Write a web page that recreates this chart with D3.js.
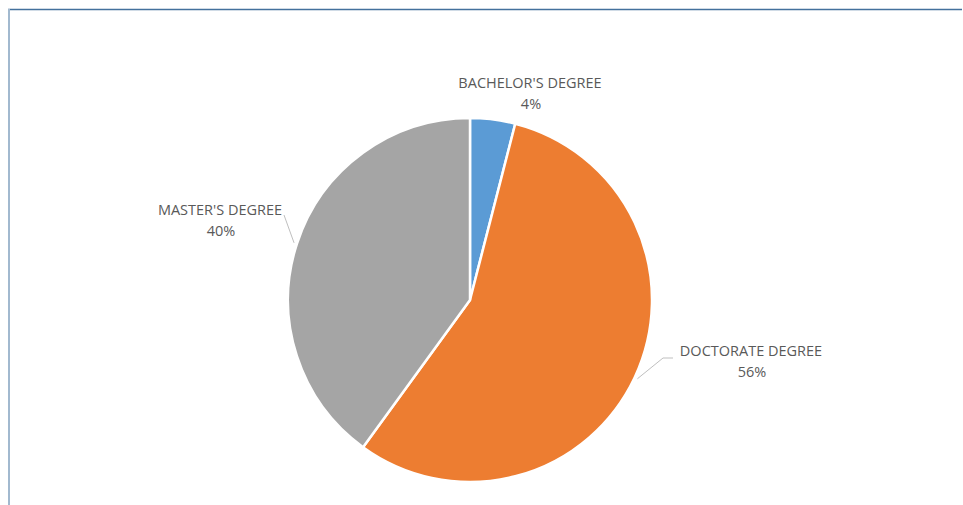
<!DOCTYPE html>
<html>
<head>
<meta charset="utf-8">
<script src="https://cdn.jsdelivr.net/npm/d3@7"></script>
<style>
  html, body { margin: 0; padding: 0; background: #fff; }
  svg { display: block; }
  text { font-family: "Open Sans", "Liberation Sans", sans-serif; }
</style>
</head>
<body>
<div id="chart"></div>
<script>
// Share of staff by highest degree held
const categories = ["BACHELOR'S DEGREE", "DOCTORATE DEGREE", "MASTER'S DEGREE"];
const shares = [4, 56, 40];
const shareLabels = ["4%", "56%", "40%"];
const colors = ["#5b9bd5", "#ed7d31", "#a5a5a5"];

const width = 963, height = 505;
const cx = 470, cy = 300, radius = 182;

const svg = d3.select("#chart").append("svg")
  .attr("width", width).attr("height", height);

// frame edges
svg.append("line").attr("x1", 8).attr("x2", 962).attr("y1", 9.5).attr("y2", 9.5)
  .attr("stroke", "#44719d").attr("stroke-width", 1.5);
svg.append("line").attr("x1", 9).attr("x2", 9).attr("y1", 9).attr("y2", 505)
  .attr("stroke", "#a2b9cf").attr("stroke-width", 2);

const data = categories.map((c, i) => ({ name: c, value: shares[i], label: shareLabels[i], color: colors[i] }));

const pie = d3.pie().value(d => d.value).sort(null);
const arcs = pie(data);
const arc = d3.arc().innerRadius(0).outerRadius(radius);

const g = svg.append("g").attr("transform", `translate(${cx},${cy})`);

g.selectAll("path.slice").data(arcs).join("path")
  .attr("class", "slice")
  .attr("d", arc)
  .attr("fill", d => d.data.color)
  .attr("stroke", "#fff")
  .attr("stroke-width", 2.5)
  .attr("stroke-linejoin", "round");

// label layout: text baseline point (relative to pie centre) and optional leader elbow
const labelLayout = {
  "BACHELOR'S DEGREE": { x: 60, y: -212, leader: null },
  "DOCTORATE DEGREE": { x: 281, y: 56, leader: { elbow: [193, 58], end: [203, 58] } },
  "MASTER'S DEGREE": { x: -250, y: -85, leader: { elbow: [-186, -85], end: [-186, -85] } }
};

const edgeArc = d3.arc().innerRadius(radius + 3).outerRadius(radius + 3);

arcs.forEach(a => {
  const L = labelLayout[a.data.name];
  if (L.leader) {
    const p = edgeArc.centroid(a);
    const pts = [p, L.leader.elbow, L.leader.end];
    g.append("path")
      .attr("d", d3.line()(pts))
      .attr("fill", "none")
      .attr("stroke", "#bfbfbf")
      .attr("stroke-width", 1);
  }
  const t = g.append("text")
    .attr("x", L.x).attr("y", L.y)
    .attr("text-anchor", "middle")
    .attr("fill", "#595959")
    .attr("font-size", 14.5);
  t.append("tspan").attr("x", L.x).attr("dy", 0).text(a.data.name);
  t.append("tspan").attr("x", L.x + 1).attr("dy", 20.5).text(a.data.label);
});
</script>
</body>
</html>
